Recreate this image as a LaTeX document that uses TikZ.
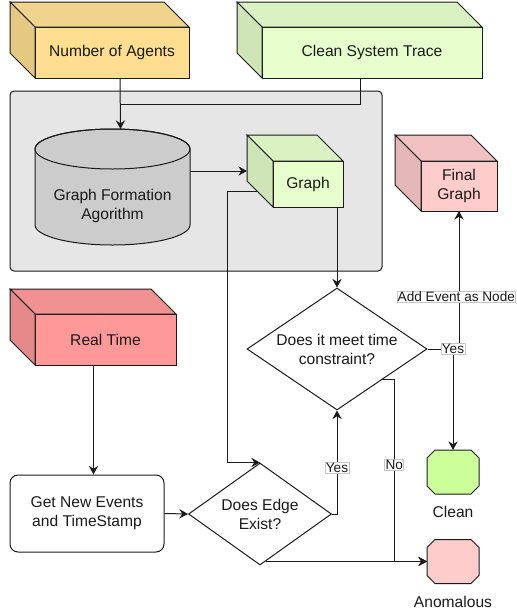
\documentclass[tikz,border=0pt]{standalone}
\usepackage{fontspec}
\setmainfont{Liberation Sans}
\usetikzlibrary{shapes.geometric,arrows.meta,calc}

\definecolor{agentfront}{HTML}{FEDF92}
\definecolor{tracefront}{HTML}{E6FFCC}
\definecolor{finalfront}{HTML}{FFCCCC}
\definecolor{realfront}{HTML}{FF9999}
\definecolor{stagefill}{HTML}{E6E6E6}
\definecolor{cylfill}{HTML}{CCCCCC}
\definecolor{cleanfill}{HTML}{CCFF99}
\definecolor{anomfill}{HTML}{FFCCCC}
\definecolor{inkline}{HTML}{1A1A1A}

\tikzset{
  txt/.style={font=\fontsize{11.7}{14.3}\selectfont, align=center, text=inkline},
  cubeline/.style={draw=inkline, line width=0.75pt, line join=miter},
  cubeface/.style={txt, cubeline, rectangle, inner sep=0pt, outer sep=0pt},
  ghost/.style={rectangle, inner sep=0pt, outer sep=0pt},
  conn/.style={draw=inkline, line width=0.75pt},
  arr/.style={conn, -{Stealth[length=6.5pt,width=7pt,inset=2.2pt]}},
  lbl/.style={fill=white, draw=gray!45, line width=0.4pt, inner sep=0.6pt,
              font=\fontsize{10.2}{12}\selectfont, text=inkline},
}

% 3-D box: name, centre x, centre y, width, height, depth, colour, text
\newcommand\cubenode[8]{%
  \node[cubeface, fill=#7, minimum width=#4*0.75pt, minimum height=#5*0.75pt] (#1) at (#2,#3) {#8};
  \node[ghost, minimum width=#4*0.75pt, minimum height=#5*0.75pt] (#1-back) at ([shift={(-#6,-#6)}]#1.center) {};
  \filldraw[cubeline, fill=#7!95!black] (#1.north west) -- (#1-back.north west) -- (#1-back.north east) -- (#1.north east) -- cycle;
  \filldraw[cubeline, fill=#7!90!black] (#1.north west) -- (#1-back.north west) -- (#1-back.south west) -- (#1.south west) -- cycle;
}

% octagon with caption underneath: name, centre x, centre y, fill, caption
\newcommand\octnode[5]{%
  \node[ghost, minimum width=39pt, minimum height=33pt] (#1) at (#2,#3) {};
  \filldraw[cubeline, fill=#4]
    ([xshift=6pt]#1.north west) -- ([xshift=-6pt]#1.north east) -- ([yshift=-6pt]#1.north east)
    -- ([yshift=6pt]#1.south east) -- ([xshift=-6pt]#1.south east) -- ([xshift=6pt]#1.south west)
    -- ([yshift=6pt]#1.south west) -- ([yshift=-6pt]#1.north west) -- cycle;
  \node[txt] (#1-caption) at ([yshift=-13.5pt]#1.south) {#5};
}

\begin{document}
\begin{tikzpicture}[x=0.75pt, y=-0.75pt]
\useasboundingbox (0,0) rectangle (517,615);

% inputs
\cubenode{agents}{112}{52.5}{154}{51}{25}{agentfront}{Number of Agents}
\cubenode{trace}{372}{52.5}{220}{51}{25}{tracefront}{Clean System Trace}

% graph-building stage
\node[ghost, draw=inkline, line width=0.75pt, fill=stagefill, rounded corners=3pt,
      minimum width=372*0.75pt, minimum height=180*0.75pt] (stage) at (196,181) {};

\node[ghost, minimum width=155*0.75pt, minimum height=116*0.75pt] (algo) at (112.5,187) {};
\filldraw[cubeline, fill=cylfill]
  ([yshift=-15pt]algo.north west) -- ([yshift=15pt]algo.south west)
  arc[start angle=180, end angle=360, x radius=58.125pt, y radius=15pt]
  -- ([yshift=-15pt]algo.north east)
  arc[start angle=0, end angle=180, x radius=58.125pt, y radius=15pt] -- cycle;
\draw[cubeline] ([yshift=-15pt]algo.north) ellipse[x radius=58.125pt, y radius=15pt];
\node[txt] (algolabel) at ([yshift=-14pt]algo.center) {Graph Formation\\Agorithm};

\cubenode{graph}{308}{184}{70}{46}{26}{tracefront}{Graph}
\cubenode{final}{459}{186}{76}{50}{26}{finalfront}{Final\\Graph}

\cubenode{realtime}{105.5}{339.5}{141}{51}{25}{realfront}{Real Time}

% decisions and process
\node[txt, draw=inkline, line width=0.75pt, fill=white, rounded corners=6pt, inner sep=0pt,
      minimum width=154*0.75pt, minimum height=77*0.75pt] (getev) at (87,513.5)
      {Get New Events\\and TimeStamp};
\node[txt, diamond, draw=inkline, line width=0.75pt, fill=white, inner sep=0pt, aspect=1.4,
      minimum width=143*0.75pt, minimum height=102*0.75pt] (edge) at (260,514)
      {Does Edge\\Exist?};
\node[txt, diamond, draw=inkline, line width=0.75pt, fill=white, inner sep=0pt, aspect=1.475,
      minimum width=180*0.75pt, minimum height=122*0.75pt] (time) at (337,349)
      {Does it meet time\\constraint?};

% outcomes
\octnode{clean}{453}{472}{cleanfill}{Clean}
\octnode{anom}{453}{561.5}{anomfill}{Anomalous}

% connectors
\coordinate (merge) at (120,104);
\draw[arr] ([xshift=6pt]agents.south) -- ([xshift=6pt]algo.north);
\draw[conn] ([xshift=-9pt]trace.south) |- (merge);
\draw[arr] ([yshift=12pt]algo.east) -- ([yshift=12pt]algo.east -| graph-back.west);

\coordinate (gout) at ($(graph-back.south west)!0.42!(graph.south west)$);
\draw[arr] (gout) -- ++(-30,0) |- (edge.north);
\draw[arr] (time.north |- graph.south) -- (time.north);

\draw[arr] ([xshift=-9pt]realtime.south) -- ([xshift=-9pt]realtime.south |- getev.north);
\draw[arr] (getev.east) -- (edge.west);

\draw[arr] (edge.east) -| (time.south) node[lbl, pos=0.725] {Yes};
\coordinate (eout) at ($(edge.south)!0.08!(edge.east)$);
\draw[arr] (eout) -- (eout -| anom.west);

\coordinate (tout) at ($(time.east)!0.5!(time.south)$);
\draw[arr] (tout) -- ++(12,0) |- (anom.west) node[lbl, pos=0.235] {No};

\draw[arr] (time.east) -| (final.south) node[lbl, pos=0.69, xshift=-2pt] {Add Event as Node};
\draw[arr] (time.east) -| (clean.north) node[lbl, pos=0.5] {Yes};
\end{tikzpicture}
\end{document}
